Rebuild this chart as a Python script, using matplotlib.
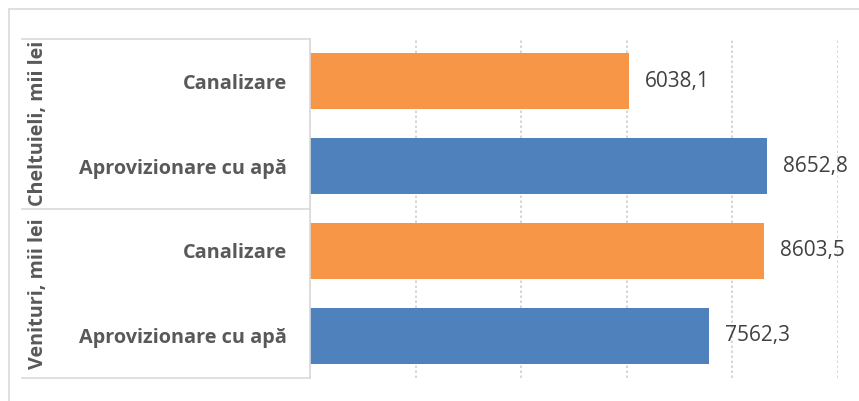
import matplotlib
matplotlib.use("Agg")
import matplotlib.pyplot as plt
from matplotlib.lines import Line2D
from matplotlib.patches import Rectangle

# Data (top to bottom)
groups = ["Cheltuieli, mii lei", "Venituri, mii lei"]
categories = ["Canalizare", "Aprovizionare cu apă", "Canalizare", "Aprovizionare cu apă"]
values = [6038.1, 8652.8, 8603.5, 7562.3]
labels = ["6038,1", "8652,8", "8603,5", "7562,3"]
colors = ["#F79646", "#4F81BD", "#F79646", "#4F81BD"]
xticks = [0, 2000, 4000, 6000, 8000, 10000]

W, H = 859, 401
fig = plt.figure(figsize=(W / 100, H / 100), dpi=100)
fig.patch.set_facecolor("white")

def fx(px):
    return px / W

def fy(py):
    return 1 - py / H

# outer chart frame (cropped on right/bottom)
fig.add_artist(Rectangle((fx(9), fy(420)), fx(870) - fx(9), fy(9) - fy(420),
                         transform=fig.transFigure, fill=False,
                         edgecolor="#D9D9D9", linewidth=1.2, clip_on=False))

left, right, top, bottom = 310, 838, 39, 378
ax = fig.add_axes([fx(left), fy(bottom), fx(right) - fx(left), fy(top) - fy(bottom)])

y = list(range(len(values)))
ax.barh(y, values, height=0.66, color=colors)
ax.set_ylim(len(values) - 0.5, -0.5)
ax.set_xlim(xticks[0], xticks[-1])
ax.set_xticks(xticks)
ax.set_xticklabels([])
ax.tick_params(axis="x", length=0)
ax.grid(axis="x", linestyle=(0, (1.5, 1.5)), color="#D0D0D0", linewidth=1.2)
ax.set_axisbelow(True)
for s in ["top", "right", "bottom"]:
    ax.spines[s].set_visible(False)
ax.spines["left"].set_color("#D9D9D9")
ax.spines["left"].set_linewidth(1.2)

ax.set_yticks(y)
ax.set_yticklabels(categories, fontsize=14.3, fontweight="bold", color="#595959",
                   family="Open Sans")
ax.tick_params(axis="y", length=0, pad=16.5)

for yi, v, lab in zip(y, values, labels):
    ax.annotate(lab, (v, yi), xytext=(11.5, 0), textcoords="offset points",
                ha="left", va="center", fontsize=15, color="#404040",
                family="Open Sans")

# category table lines
for py in (top, (top + bottom) / 2, bottom):
    fig.add_artist(Line2D([fx(22), fx(left)], [fy(py), fy(py)], transform=fig.transFigure,
                          color="#D9D9D9", linewidth=1.2))

# group labels
mid = (top + bottom) / 2
for g, (a, b) in zip(groups, [(top, mid), (mid, bottom)]):
    fig.text(fx(38), fy((a + b) / 2), g, rotation=90, ha="center", va="center",
             fontsize=14.2, fontweight="bold", color="#595959", family="Open Sans")

fig.savefig("out.png", dpi=100, facecolor="white")
